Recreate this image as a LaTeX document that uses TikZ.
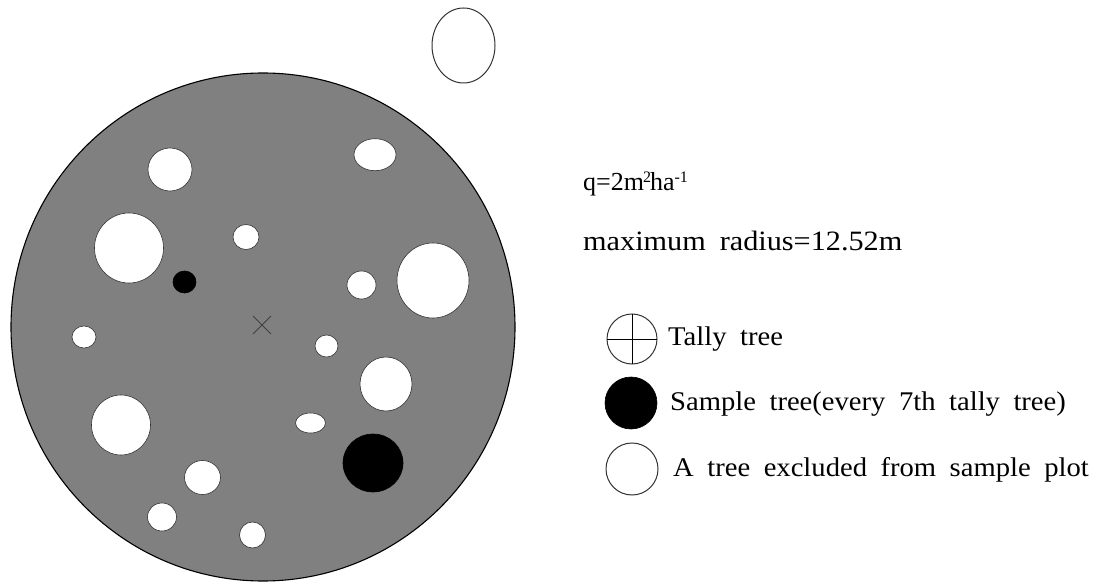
\documentclass[tikz,border=0pt]{standalone}
\usepackage{fontspec}
\setmainfont{Liberation Serif}
\newfontfamily\legendfont[FakeStretch=1.06]{Liberation Serif}
\newfontfamily\infofont[FakeStretch=1.08]{Liberation Serif}
\newcommand\widewords{\spaceskip 0.5em\relax}
\newcommand\raisedtext[1]{{\fontsize{16}{16}\selectfont\raisebox{8pt}{#1}}}
\begin{document}
\begin{tikzpicture}[x=1pt,y=-1pt,
  plot/.style={fill=plotgray,draw=black,line width=1.1pt},
  hole/.style={fill=white,draw=black!80,line width=0.6pt},
  sample/.style={fill=black,draw=black,line width=0.6pt},
  legendtext/.style={anchor=west,inner sep=0pt,font=\legendfont\fontsize{27}{30}\selectfont\widewords},
  infotext/.style={anchor=west,inner sep=0pt,font=\infofont\fontsize{28}{30}\selectfont\widewords}]
\definecolor{plotgray}{RGB}{128,128,128}
\useasboundingbox (0,0) rectangle (1096,583);

% circular sample plot
\draw[plot] (263,327) ellipse [x radius=252, y radius=254];

% trees excluded from the plot
\draw[hole] (170,169.5) ellipse [x radius=22, y radius=21.5];
\draw[hole] (375,154.7) ellipse [x radius=21, y radius=16];
\draw[hole] (129,248) ellipse [x radius=34.5, y radius=35];
\draw[hole] (246,237) ellipse [x radius=13, y radius=12.5];
\draw[hole] (361.5,285) ellipse [x radius=14.5, y radius=14];
\draw[hole] (433,280.5) ellipse [x radius=36, y radius=37.5];
\draw[hole] (84,337) ellipse [x radius=12, y radius=11];
\draw[hole] (121,425) ellipse [x radius=29.5, y radius=30];
\draw[hole] (202.5,477.5) ellipse [x radius=18, y radius=17];
\draw[hole] (162,517) ellipse [x radius=14.5, y radius=14];
\draw[hole] (252.5,535) ellipse [x radius=13, y radius=13];
\draw[hole] (326.5,346) ellipse [x radius=11.5, y radius=11];
\draw[hole] (386,384) ellipse [x radius=26, y radius=27];
\draw[hole] (310.5,423) ellipse [x radius=15, y radius=10];

% sample trees
\draw[sample] (184.5,282) ellipse [x radius=11.5, y radius=11];
\draw[sample] (373,463) ellipse [x radius=30, y radius=29];

% plot centre
\coordinate (centre) at (262,325);
\draw[black!75,line width=0.9pt] ([shift={(-9,-9)}]centre) -- ([shift={(9,9)}]centre)
  ([shift={(-9,9)}]centre) -- ([shift={(9,-9)}]centre);

% tree outside the plot
\draw[hole,line width=1pt] (463.5,45.5) ellipse [x radius=31.5, y radius=37.5];

% plot parameters
\node[anchor=west,inner sep=0pt,font=\fontsize{26}{30}\selectfont] (q) at (583,184)
  {q=2m\kern-1pt\raisedtext{2}\kern-1pt ha\raisedtext{-1}};
\node[infotext] (rmax) at (583,241) {maximum radius=12.52m};

% legend
\coordinate (lt) at (632,339);
\draw[hole,line width=1pt] (lt) circle [radius=25];
\draw[line width=1pt] ([xshift=-25]lt) -- ([xshift=25]lt) ([yshift=-25]lt) -- ([yshift=25]lt);
\node[legendtext] (tally) at (668,339) {Tally tree};

\coordinate (ls) at (631,403);
\draw[sample] (ls) circle [radius=26];
\node[legendtext] (sampletext) at (670,404) {Sample tree(every 7th tally tree)};

\coordinate (le) at (632,469);
\draw[hole,line width=1pt] (le) circle [radius=26];
\node[legendtext] (excl) at (673,470) {A tree excluded from sample plot};
\end{tikzpicture}
\end{document}
